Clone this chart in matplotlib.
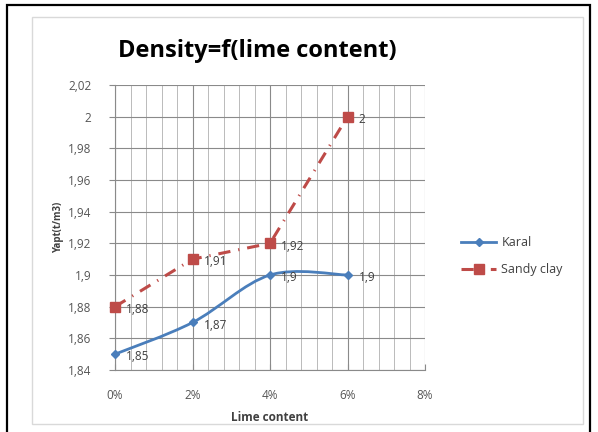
import numpy as np
import matplotlib
matplotlib.use("Agg")
import matplotlib.pyplot as plt
from matplotlib.path import Path
from matplotlib.patches import PathPatch, Rectangle
from matplotlib.lines import Line2D
from matplotlib.ticker import MultipleLocator, FuncFormatter

## data
lime = [0.00, 0.02, 0.04, 0.06]
karal = [1.85, 1.87, 1.90, 1.90]
sandy_clay = [1.88, 1.91, 1.92, 2.00]
karal_labels = ["1,85", "1,87", "1,9", "1,9"]
sandy_labels = ["1,88", "1,91", "1,92", "2"]

plt.rcParams['font.family'] = ['Open Sans', 'DejaVu Sans']

BLUE = "#4a7ebb"
RED = "#be4b48"
GRAY_TXT = "#555555"
RED_DASH = (0, (4, 2.6, 0.4, 2.6))

fig = plt.figure(figsize=(5.98, 4.32), dpi=100)
W, H = 598, 432

## frames (outer black, inner light gray)
fig.patches.append(Rectangle((7 / W, -0.05), 583 / W, 1 - 5 / H + 0.05,
                             transform=fig.transFigure, fill=False,
                             edgecolor="black", linewidth=1.6))
fig.patches.append(Rectangle((32 / W, 8 / H), 551 / W, 1 - 25 / H,
                             transform=fig.transFigure, fill=False,
                             edgecolor="#d9d9d9", linewidth=1.0))

ax = fig.add_axes([115 / W, 1 - 370 / H, 310 / W, 285 / H])
ax.set_xlim(0, 0.08)
ax.set_ylim(1.84, 2.02)

## grid
ax.xaxis.set_major_locator(MultipleLocator(0.02))
ax.xaxis.set_minor_locator(MultipleLocator(0.004))
ax.yaxis.set_major_locator(MultipleLocator(0.02))
ax.grid(which="major", axis="both", color="#8a8a8a", linewidth=0.8)
ax.grid(which="minor", axis="x", color="#b0b0b0", linewidth=0.6)
ax.set_axisbelow(True)

for s in ["top", "right"]:
    ax.spines[s].set_visible(False)
for s in ["left", "bottom"]:
    ax.spines[s].set_color("#8a8a8a")
    ax.spines[s].set_linewidth(0.8)

ax.xaxis.set_major_formatter(FuncFormatter(lambda v, p: f"{v * 100:.0f}%"))
ax.yaxis.set_major_formatter(
    FuncFormatter(lambda v, p: f"{v:.2f}".rstrip("0").rstrip(".").replace(".", ",")))
ax.tick_params(which="minor", length=0)
ax.tick_params(axis="y", which="major", length=4, direction="out", color="#8a8a8a",
               labelsize=8.5, labelcolor=GRAY_TXT, pad=13)
ax.tick_params(axis="x", which="major", length=4, direction="in", color="#8a8a8a",
               labelsize=8.5, labelcolor=GRAY_TXT, pad=14)

## smoothed blue line (bezier through the data points, excel style)
x = np.array(lime)
y = np.array(karal)
verts = [(x[0], y[0])]
codes = [Path.MOVETO]
n = len(x)
for i in range(n - 1):
    xp, yp = (x[i - 1], y[i - 1]) if i > 0 else (x[i], y[i])
    xn, yn = (x[i + 2], y[i + 2]) if i + 2 < n else (x[i + 1], y[i + 1])
    c1 = (x[i] + (x[i + 1] - xp) / 6, y[i] + (y[i + 1] - yp) / 6)
    c2 = (x[i + 1] - (xn - x[i]) / 6, y[i + 1] - (yn - y[i]) / 6)
    verts += [c1, c2, (x[i + 1], y[i + 1])]
    codes += [Path.CURVE4] * 3
ax.add_patch(PathPatch(Path(verts, codes), facecolor="none", edgecolor=BLUE,
                       linewidth=2.0, zorder=3))
ax.plot(lime, karal, linestyle="none", marker="D", markersize=4.5,
        color=BLUE, zorder=4, clip_on=False)

## red dash-dot line
ax.plot(lime, sandy_clay, color=RED, linewidth=2.2, linestyle=RED_DASH,
        marker="s", markersize=7, zorder=4, clip_on=False)

## data labels
for xi, yi, t in zip(lime, karal, karal_labels):
    ax.annotate(t, (xi, yi), xytext=(8, -2), textcoords="offset points",
                fontsize=8.5, color="#404040", va="center", ha="left")
for xi, yi, t in zip(lime, sandy_clay, sandy_labels):
    ax.annotate(t, (xi, yi), xytext=(8, -2), textcoords="offset points",
                fontsize=8.5, color="#404040", va="center", ha="left")

ax.set_xlabel("Lime content", fontsize=8.5, fontweight="bold", color="#404040", labelpad=6)
ax.set_ylabel("Yapt(t/m3)", fontsize=7, fontweight="bold", color="#404040", labelpad=3)

fig.text(257 / W, 1 - 51 / H, "Density=f(lime content)", fontsize=17,
         fontweight="bold", ha="center", va="center", color="black")

## legend
handles = [
    Line2D([], [], color=BLUE, linewidth=2.0, marker="D", markersize=4.5),
    Line2D([], [], color=RED, linewidth=2.2, linestyle=RED_DASH,
           marker="s", markersize=7),
]
fig.legend(handles, ["Karal", "Sandy clay"], loc="center left",
           bbox_to_anchor=(450 / W, 1 - 256 / H), frameon=False, fontsize=9,
           handlelength=2.8, handletextpad=0.4, labelspacing=1.1,
           labelcolor="#404040")

fig.savefig("out.png", dpi=100, facecolor="white")
